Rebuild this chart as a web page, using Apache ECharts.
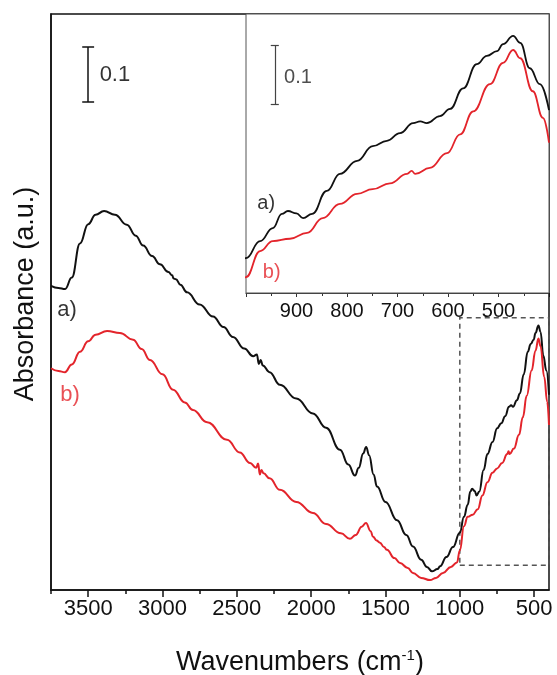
<!DOCTYPE html>
<html>
<head>
    <meta charset="utf-8" />
    <title>IR spectra</title>
    <script src="https://cdn.jsdelivr.net/npm/echarts@6/dist/echarts.min.js"></script>
    <style>
        html, body { margin: 0; padding: 0; background: #fff; }
        #main { width: 557px; height: 675px; }
    </style>
</head>
<body>
<div id="main"></div>
<script type="text/javascript">
    // spectrum a) (black) : [wavenumber, absorbance]
    var specA = [
        [3750,0.553],[3700,0.549],[3655,0.547],[3610,0.568],[3555,0.630],[3500,0.665],[3450,0.682],
        [3393,0.689],[3320,0.682],[3240,0.664],[3180,0.644],[3130,0.626],[3070,0.607],[3017,0.592],
        [2960,0.578],[2935,0.572],[2925,0.566],[2910,0.565],[2880,0.555],[2835,0.541],[2750,0.519],
        [2660,0.497],[2590,0.478],[2526,0.460],[2450,0.439],[2390,0.425],[2365,0.428],[2352,0.411],
        [2340,0.418],[2325,0.408],[2280,0.396],[2210,0.373],[2100,0.348],[1988,0.321],[1900,0.295],
        [1806,0.255],[1750,0.228],[1705,0.208],[1680,0.222],[1650,0.248],[1630,0.260],[1610,0.245],
        [1580,0.210],[1557,0.188],[1500,0.160],[1422,0.127],[1360,0.100],[1315,0.079],[1260,0.055],
        [1221,0.042],[1187,0.034],[1150,0.038],[1133,0.043],[1090,0.060],[1046,0.078],[1000,0.104],
        [972,0.133],[947,0.155],[929,0.179],[917,0.184],[900,0.180],[887,0.172],[869,0.179],
        [840,0.218],[814,0.247],[780,0.269],[749,0.294],[721,0.303],[695,0.316],[669,0.333],
        [655,0.336],[642,0.333],[616,0.345],[596,0.357],[570,0.392],[543,0.433],[523,0.447],
        [503,0.455],[491,0.467],[471,0.481],[457,0.469],[438,0.426],[418,0.399],[400,0.355]
    ];
    // spectrum b) (red)
    var specB = [
        [3750,0.403],[3700,0.398],[3656,0.396],[3610,0.410],[3555,0.433],[3500,0.452],[3450,0.464],
        [3373,0.471],[3286,0.467],[3198,0.455],[3140,0.438],[3084,0.418],[3000,0.392],[2929,0.364],
        [2850,0.341],[2795,0.327],[2700,0.305],[2566,0.273],[2480,0.250],[2411,0.231],[2370,0.222],
        [2357,0.230],[2345,0.210],[2335,0.218],[2320,0.212],[2280,0.203],[2210,0.182],[2100,0.160],
        [1988,0.140],[1900,0.120],[1800,0.103],[1739,0.093],[1700,0.100],[1660,0.115],[1631,0.122],
        [1600,0.107],[1584,0.097],[1560,0.090],[1537,0.086],[1510,0.078],[1490,0.073],[1440,0.058],
        [1402,0.049],[1350,0.040],[1315,0.031],[1260,0.022],[1200,0.018],[1160,0.022],[1113,0.031],
        [1060,0.042],[1019,0.050],[1000,0.072],[972,0.116],[947,0.133],[913,0.137],[879,0.147],
        [848,0.172],[814,0.196],[780,0.213],[749,0.221],[715,0.231],[681,0.247],[672,0.252],
        [665,0.247],[636,0.257],[602,0.282],[576,0.314],[550,0.353],[517,0.399],[491,0.435],
        [471,0.457],[457,0.443],[432,0.387],[412,0.342],[400,0.300]
    ];

    var mainTicks = [500, 1000, 1500, 2000, 2500, 3000, 3500];
    var mainMinorTicks = [750, 1250, 1750, 2250, 2750, 3250, 3750];
    var zoomBox = [1000, 0.045, 400, 0.495];     // dashed region shown in the inset
    var mainBar = [3500, 0.887, 0.987];           // 0.1 scale bar, main plot
    var insetBar = [943, 0.365, 0.465];           // 0.1 scale bar, inset

    // [wavenumber, absorbance, text, color]
    var mainLabels = [[3642, 0.509, 'a)', '#000'], [3622, 0.355, 'b)', '#e3242b'], [3320, 0.936, '0.1', '#000']];
    var insetLabels = [[960, 0.196, 'a)', '#000'], [949, 0.079, 'b)', '#e3242b'], [897, 0.411, '0.1', '#222']];

    var FONT = 'Liberation Sans, Arial, sans-serif';
    var BLACK = '#111';
    var RED = '#e3242b';

    function plain(v) { return String(v); }

    function barLines(bar, cap) {
        return [
            [{coord: [bar[0], bar[1]]}, {coord: [bar[0], bar[2]]}],
            [{coord: [bar[0] + cap, bar[1]]}, {coord: [bar[0] - cap, bar[1]]}],
            [{coord: [bar[0] + cap, bar[2]]}, {coord: [bar[0] - cap, bar[2]]}]
        ];
    }

    function textSeries(list, xi, yi, size) {
        return {
            type: 'scatter', xAxisIndex: xi, yAxisIndex: yi, symbolSize: 0, silent: true, z: 5,
            data: list.map(function (d) {
                return {
                    value: [d[0], d[1]],
                    label: {show: true, position: 'inside', formatter: d[2], color: d[3],
                        fontSize: size, fontFamily: FONT}
                };
            })
        };
    }

    var myChart = echarts.init(document.getElementById('main'));

    var option = {
        backgroundColor: '#fff',
        animation: false,
        grid: [
            {left: 51, top: 14, width: 498, height: 576, show: true, borderColor: BLACK, borderWidth: 1.5,
                outerBoundsMode: 'none', containLabel: false, z: 1},
            {left: 246, top: 14, width: 303, height: 279, show: true, borderColor: '#555', borderWidth: 1,
                backgroundColor: '#fff', outerBoundsMode: 'none', containLabel: false, z: 3}
        ],
        xAxis: [
            {
                gridIndex: 0, type: 'value', inverse: true, min: 400, max: 3750,
                axisLine: {onZero: false, lineStyle: {color: BLACK, width: 1.5}},
                axisTick: {customValues: mainTicks, length: 7, lineStyle: {color: BLACK, width: 1.5}},
                axisLabel: {customValues: mainTicks, formatter: plain, fontSize: 22, fontFamily: FONT,
                    color: '#111', margin: 8},
                splitLine: {show: false},
                name: 'Wavenumbers (cm{sup|-1})',
                nameLocation: 'middle', nameGap: 58,
                nameTextStyle: {
                    fontSize: 27, fontFamily: FONT, color: '#111',
                    rich: {sup: {fontSize: 15, fontFamily: FONT, color: '#111', padding: [0, 0, 14, 0]}}
                }
            },
            {
                gridIndex: 0, type: 'value', inverse: true, min: 400, max: 3750, position: 'bottom',
                axisLine: {show: false},
                axisTick: {customValues: mainMinorTicks, length: 4, lineStyle: {color: BLACK, width: 1.5}},
                axisLabel: {show: false},
                splitLine: {show: false}
            },
            {
                gridIndex: 1, type: 'value', inverse: true, min: 400, max: 1000, interval: 100,
                axisLine: {onZero: false, lineStyle: {color: '#333', width: 1.2}},
                axisTick: {length: 4, lineStyle: {color: '#333'}},
                minorTick: {show: true, splitNumber: 2, length: 3, lineStyle: {color: '#333'}},
                axisLabel: {formatter: plain, fontSize: 20, fontFamily: FONT, color: '#111', margin: 8,
                    showMinLabel: false, showMaxLabel: false},
                splitLine: {show: false}
            }
        ],
        yAxis: [
            {
                gridIndex: 0, type: 'value', min: 0, max: 1.047,
                axisLine: {show: true, lineStyle: {color: BLACK, width: 1.5}},
                axisTick: {show: false}, axisLabel: {show: false}, splitLine: {show: false},
                name: 'Absorbance (a.u.)', nameLocation: 'middle', nameGap: 12,
                nameTextStyle: {fontSize: 27, fontFamily: FONT, color: '#111', padding: [0, 0, 0, 16]}
            },
            {
                gridIndex: 1, type: 'value', min: 0.045, max: 0.518,
                axisLine: {show: false}, axisTick: {show: false}, axisLabel: {show: false},
                splitLine: {show: false}
            }
        ],
        series: [
            {
                name: 'a', type: 'line', xAxisIndex: 0, yAxisIndex: 0, data: specA,
                showSymbol: false, smooth: 0.45, smoothMonotone: 'x',
                lineStyle: {color: BLACK, width: 2}, z: 2,
                markLine: {
                    silent: true, symbol: ['none', 'none'], label: {show: false},
                    lineStyle: {color: BLACK, width: 1.5, type: 'solid'},
                    data: barLines(mainBar, 40)
                },
                markArea: {
                    silent: true,
                    itemStyle: {color: 'rgba(0,0,0,0)', borderColor: '#555', borderWidth: 1.5, borderType: [5, 4]},
                    data: [[{coord: [zoomBox[0], zoomBox[1]]}, {coord: [zoomBox[2], zoomBox[3]]}]]
                }
            },
            {
                name: 'b', type: 'line', xAxisIndex: 0, yAxisIndex: 0, data: specB,
                showSymbol: false, smooth: 0.45, smoothMonotone: 'x',
                lineStyle: {color: RED, width: 2}, z: 2
            },
            {
                name: 'a inset', type: 'line', xAxisIndex: 2, yAxisIndex: 1, data: specA,
                showSymbol: false, smooth: 0.45, smoothMonotone: 'x', clip: true,
                lineStyle: {color: BLACK, width: 1.8}, z: 4,
                markLine: {
                    silent: true, symbol: ['none', 'none'], label: {show: false},
                    lineStyle: {color: '#444', width: 1.2, type: 'solid'},
                    data: barLines(insetBar, 8)
                }
            },
            {
                name: 'b inset', type: 'line', xAxisIndex: 2, yAxisIndex: 1, data: specB,
                showSymbol: false, smooth: 0.45, smoothMonotone: 'x', clip: true,
                lineStyle: {color: RED, width: 1.8}, z: 4
            },
            textSeries(mainLabels, 0, 0, 22),
            textSeries(insetLabels, 2, 1, 20)
        ]
    };

    myChart.setOption(option);
</script>
</body>
</html>
